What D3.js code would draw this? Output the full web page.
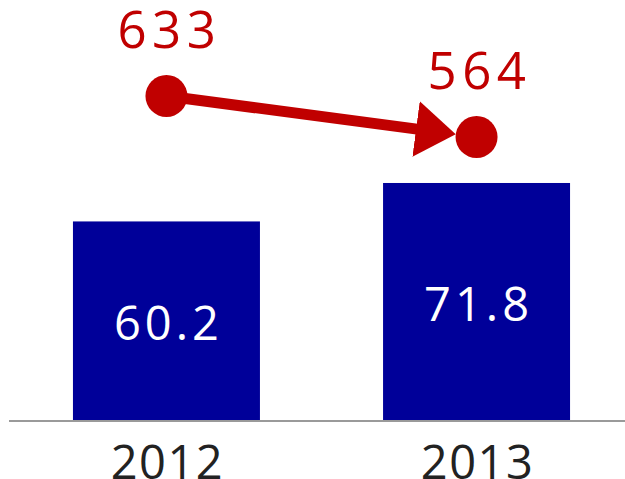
<!DOCTYPE html>
<html>
<head>
<meta charset="utf-8">
<script src="https://cdn.jsdelivr.net/npm/d3@7"></script>
<style>
  html, body { margin: 0; padding: 0; background: #fff; }
  svg { display: block; }
</style>
</head>
<body>
<script>
// Data
const years = ["2012", "2013"];
const barValues = [60.2, 71.8];
const lineValues = [633, 564];

const W = 625, H = 479;
const barColor = "#000099";
const lineColor = "#c00000";

const svg = d3.select("body").append("svg")
  .attr("width", W).attr("height", H);

// Scales
const x = d3.scaleBand().domain(years)
  .range([10, 633]).paddingInner(0.397).paddingOuter(0.203);
const yBar = d3.scaleLinear().domain([0, 100]).range([421, 89.5]);
const yLine = d3.scaleLinear().domain([564, 633]).range([137, 96]);

// Bars
svg.selectAll("rect.bar").data(years).enter().append("rect")
  .attr("class", "bar")
  .attr("x", d => x(d))
  .attr("width", x.bandwidth())
  .attr("y", (d, i) => yBar(barValues[i]))
  .attr("height", (d, i) => yBar(0) - yBar(barValues[i]))
  .attr("fill", barColor);

// Bar value labels
svg.selectAll("text.barlabel").data(years).enter().append("text")
  .attr("class", "barlabel")
  .attr("x", d => x(d) + x.bandwidth() / 2 + 2)
  .attr("y", (d, i) => (yBar(0) + yBar(barValues[i])) / 2 + 19)
  .attr("text-anchor", "middle")
  .attr("fill", "#fff")
  .style("font-family", "'Open Sans', sans-serif")
  .style("font-size", "47px")
  .style("letter-spacing", "4px")
  .text((d, i) => barValues[i].toFixed(1));

// Baseline axis
const axis = svg.append("g").attr("transform", `translate(0,${yBar(0)})`)
  .call(d3.axisBottom(x).tickSize(0).tickPadding(0));
axis.select(".domain").attr("d", "M9,0H625").attr("stroke", "#9a9a9a").attr("stroke-width", 2);
axis.selectAll("text")
  .attr("fill", "#222")
  .attr("y", 58)
  .attr("dy", null)
  .attr("dx", 1)
  .style("font-family", "'Open Sans', sans-serif")
  .style("font-size", "47px")
  .style("letter-spacing", "1.5px");

// Trend line with arrow
const cx = d => x(d) + x.bandwidth() / 2;
const p1 = [cx(years[0]), yLine(lineValues[0])];
const p2 = [cx(years[1]), yLine(lineValues[1])];
const r = 21;
const dx = p2[0] - p1[0], dy = p2[1] - p1[1];
const len = Math.hypot(dx, dy);
const endPt = [p2[0] - dx / len * r, p2[1] - dy / len * r];

svg.append("defs").append("marker")
  .attr("id", "arrow")
  .attr("markerUnits", "userSpaceOnUse")
  .attr("viewBox", "0 0 40 56")
  .attr("refX", 40).attr("refY", 28)
  .attr("markerWidth", 40).attr("markerHeight", 56)
  .attr("orient", "auto")
  .append("path").attr("d", "M0,0L40,28L0,56Z").attr("fill", lineColor);

svg.append("line")
  .attr("x1", p1[0]).attr("y1", p1[1])
  .attr("x2", endPt[0] - dx / len * 20).attr("y2", endPt[1] - dy / len * 20)
  .attr("stroke", lineColor).attr("stroke-width", 11);

svg.append("line")
  .attr("x1", endPt[0] - dx / len * 40.5).attr("y1", endPt[1] - dy / len * 40.5)
  .attr("x2", endPt[0]).attr("y2", endPt[1])
  .attr("stroke", "none")
  .attr("marker-end", "url(#arrow)");

svg.selectAll("circle.pt").data(years).enter().append("circle")
  .attr("class", "pt")
  .attr("cx", d => cx(d))
  .attr("cy", (d, i) => yLine(lineValues[i]))
  .attr("r", r)
  .attr("fill", lineColor);

svg.selectAll("text.linelabel").data(years).enter().append("text")
  .attr("class", "linelabel")
  .attr("x", d => cx(d) + 3)
  .attr("y", (d, i) => yLine(lineValues[i]) - 48)
  .attr("text-anchor", "middle")
  .attr("fill", lineColor)
  .style("font-family", "'Open Sans', sans-serif")
  .style("font-size", "51px")
  .style("letter-spacing", "5.5px")
  .text((d, i) => lineValues[i]);
</script>
</body>
</html>
